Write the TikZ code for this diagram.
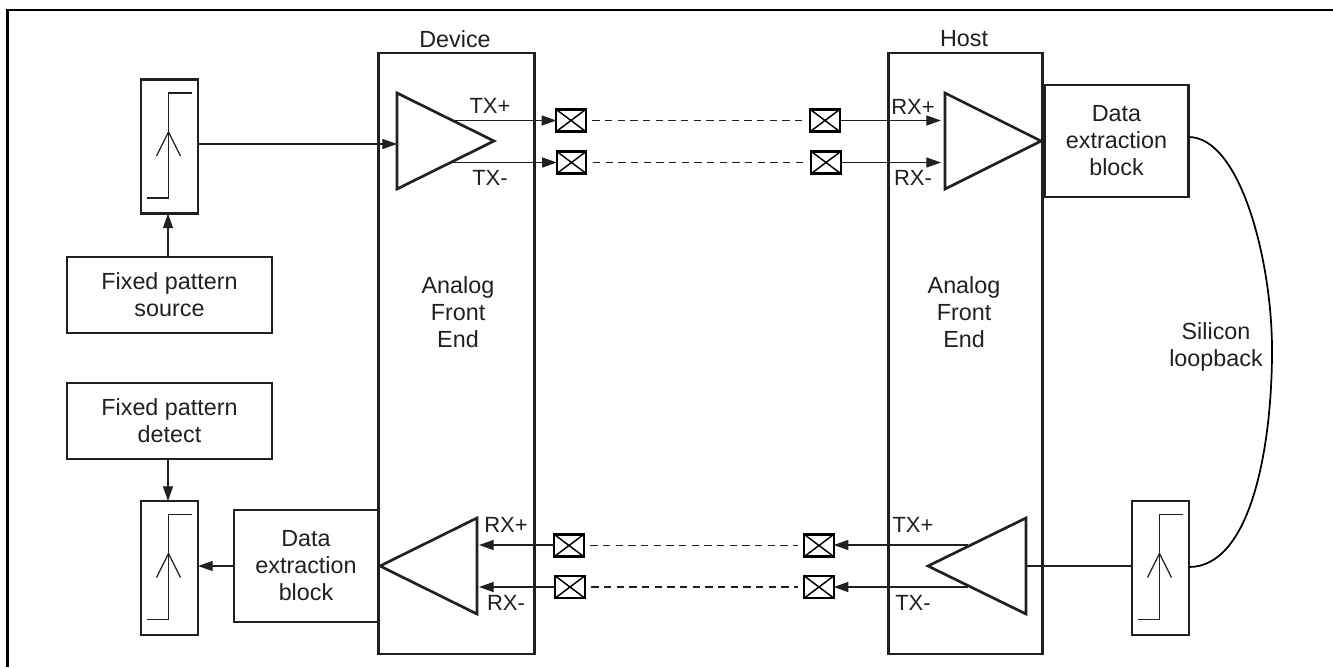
\documentclass[tikz,border=0pt]{standalone}
\usepackage{fontspec}
\setmainfont{Liberation Sans}
\usepackage{tikz}
\usetikzlibrary{arrows.meta,calc,positioning}
\definecolor{inkgray}{HTML}{231F20}
\tikzset{
    blockbox/.style={draw=inkgray, line width=2.1pt, inner sep=0pt, outer sep=0pt, align=center,
        font=\fontsize{17.5}{20.25}\selectfont, text=inkgray},
    plainlabel/.style={inner sep=0pt, align=center, font=\fontsize{17.5}{20.25}\selectfont, text=inkgray},
    pinlabel/.style={inner sep=0pt, font=\fontsize{16.5}{20}\selectfont, text=inkgray},
    padbox/.style={draw=black, line width=1.7pt, inner sep=0pt, outer sep=0pt, minimum width=22pt, minimum height=16.5pt,
        path picture={\draw[line width=1.1pt] (path picture bounding box.south west) -- (path picture bounding box.north east)
            (path picture bounding box.north west) -- (path picture bounding box.south east);}},
    ampline/.style={draw=inkgray, fill=white, line width=2pt, line join=miter},
    flow/.style={draw=inkgray, line width=0.95pt, -{Triangle[length=11pt,width=7.5pt]}},
    wire/.style={draw=inkgray, line width=0.95pt},
    trace/.style={draw=inkgray, line width=0.95pt, dash pattern=on 5.5pt off 4pt, shorten <=5pt, shorten >=5pt},
    clockbox/.pic={
        \node[blockbox, minimum width=42.75pt, minimum height=100.5pt] (-box) at (0,0) {};
        \draw[wire] (-23,51.5) -- (-1,51.5) -- (-1,-53.5) -- (22.5,-53.5);
        \draw[wire] (-13,9.5) -- (-1,-14.5) -- (11,9.5);
    }
}
\begin{document}
\begin{tikzpicture}[x=0.75pt,y=-0.75pt]
    \useasboundingbox (0,0) rectangle (1333,667);
    %Frame
    \draw[black, line width=1.9pt] (7.5,667) -- (7.5,10) -- (1333,10);
    %Analog front ends
    \node[blockbox, minimum width=116.5pt, minimum height=450.75pt] (device) at (456.5,353.5) {};
    \node[blockbox, minimum width=116pt, minimum height=450.75pt] (host) at (965.5,353.5) {};
    \node[plainlabel] (devicelabel) at (455,39) {Device};
    \node[plainlabel] (hostlabel) at (964,39) {Host};
    \node[plainlabel] (devicefe) at (458,312) {Analog\\Front\\End};
    \node[plainlabel] (hostfe) at (964,312) {Analog\\Front\\End};
    %Blocks
    \node[blockbox, minimum width=153.75pt, minimum height=57pt] (source) at (169.5,295) {Fixed pattern\\source};
    \node[blockbox, minimum width=153.75pt, minimum height=57pt] (detect) at (169.5,421) {Fixed pattern\\detect};
    \node[blockbox, minimum width=108pt, minimum height=84pt] (hostdata) at (1116.5,141) {Data\\extraction\\block};
    \node[blockbox, minimum width=108pt, minimum height=84pt] (devicedata) at (306,566) {Data\\extraction\\block};
    %Clock boxes
    \pic (clktx) at (169.5,146.5) {clockbox};
    \pic (clkrx) at (169.5,568) {clockbox};
    \pic (clkhost) at (1160.5,568) {clockbox};
    %Pads
    \node[padbox] (padtxp) at (571,120.5) {};
    \node[padbox] (padtxm) at (571.5,162.5) {};
    \node[padbox] (hostrxp) at (825,120.5) {};
    \node[padbox] (hostrxm) at (826,162.5) {};
    \node[padbox] (padrxp) at (569,545.5) {};
    \node[padbox] (padrxm) at (570,587) {};
    \node[padbox] (hosttxp) at (819,545.5) {};
    \node[padbox] (hosttxm) at (819,587) {};
    %Amplifier corners and pins
    \coordinate (txa) at (397,93);
    \coordinate (txb) at (397,189);
    \coordinate (txc) at (494,141);
    \coordinate (txin) at (397,144);
    \coordinate (txp) at (452,120.5);
    \coordinate (txm) at (448,162.5);
    \coordinate (rxa) at (945,93);
    \coordinate (rxb) at (945,189);
    \coordinate (rxc) at (1041,141);
    \coordinate (rxp) at (941,120.5);
    \coordinate (rxm) at (941,162.5);
    \coordinate (lowa) at (477,518);
    \coordinate (lowb) at (477,614);
    \coordinate (lowc) at (380,566);
    \coordinate (lowp) at (479,545);
    \coordinate (lowm) at (479,587);
    \coordinate (hosta) at (1026,518);
    \coordinate (hostb) at (1026,614);
    \coordinate (hostc) at (928,566);
    \coordinate (hostp) at (968,545);
    \coordinate (hostm) at (968,587);
    %Connectors
    \draw[flow] (clktx-box.east |- txin) -- (txin);
    \draw[flow] (source.north -| 168,0) -- (clktx-box.south -| 168,0);
    \draw[flow] (detect.south -| 168,0) -- (clkrx-box.north -| 168,0);
    \draw[flow] (devicedata.west) -- (clkrx-box.east |- devicedata.west);
    \draw[flow] (txp) -- (padtxp);
    \draw[flow] (txm) -- (padtxm);
    \draw[flow] (hostrxp) -- (rxp);
    \draw[flow] (hostrxm) -- (rxm);
    \draw[flow] (padrxp.west |- lowp) -- (lowp);
    \draw[flow] (padrxm.west |- lowm) -- (lowm);
    \draw[flow] (hostp) -- (hosttxp.east |- hostp);
    \draw[flow] (hostm) -- (hosttxm.east |- hostm);
    \draw[wire] (hosta |- hostc) -- (clkhost-box.west |- hostc);
    \draw[trace] (padtxp) -- (hostrxp);
    \draw[trace] (padtxm) -- (hostrxm);
    \draw[trace] (padrxp) -- (hosttxp);
    \draw[trace] (padrxm) -- (hosttxm);
    %Loopback
    \coordinate (loopmid) at (1272,350);
    \draw[black, line width=1.3pt] (hostdata.east |- 0,137) .. controls (1240,137) and (1272,260) .. (loopmid)
        .. controls (1272,450) and (1250,567) .. (clkhost-box.east |- 0,567);
    \node[plainlabel] (looplabel) at (1216,347) {Silicon\\loopback};
    %Amplifiers
    \draw[ampline] (txa) -- (txb) -- (txc) -- cycle;
    \draw[ampline] (rxa) -- (rxb) -- (rxc) -- cycle;
    \draw[ampline] (lowa) -- (lowb) -- (lowc) -- cycle;
    \draw[ampline] (hosta) -- (hostb) -- (hostc) -- cycle;
    %Pin labels
    \node[pinlabel] (lbltxp) at (490,106) {TX+};
    \node[pinlabel] (lbltxm) at (490,178) {TX-};
    \node[pinlabel] (lblrxp) at (913,107) {RX+};
    \node[pinlabel] (lblrxm) at (913,178) {RX-};
    \node[pinlabel] (lbllowp) at (506,525) {RX+};
    \node[pinlabel] (lbllowm) at (506,603) {RX-};
    \node[pinlabel] (lblhostp) at (913,525) {TX+};
    \node[pinlabel] (lblhostm) at (913,603) {TX-};
\end{tikzpicture}
\end{document}
